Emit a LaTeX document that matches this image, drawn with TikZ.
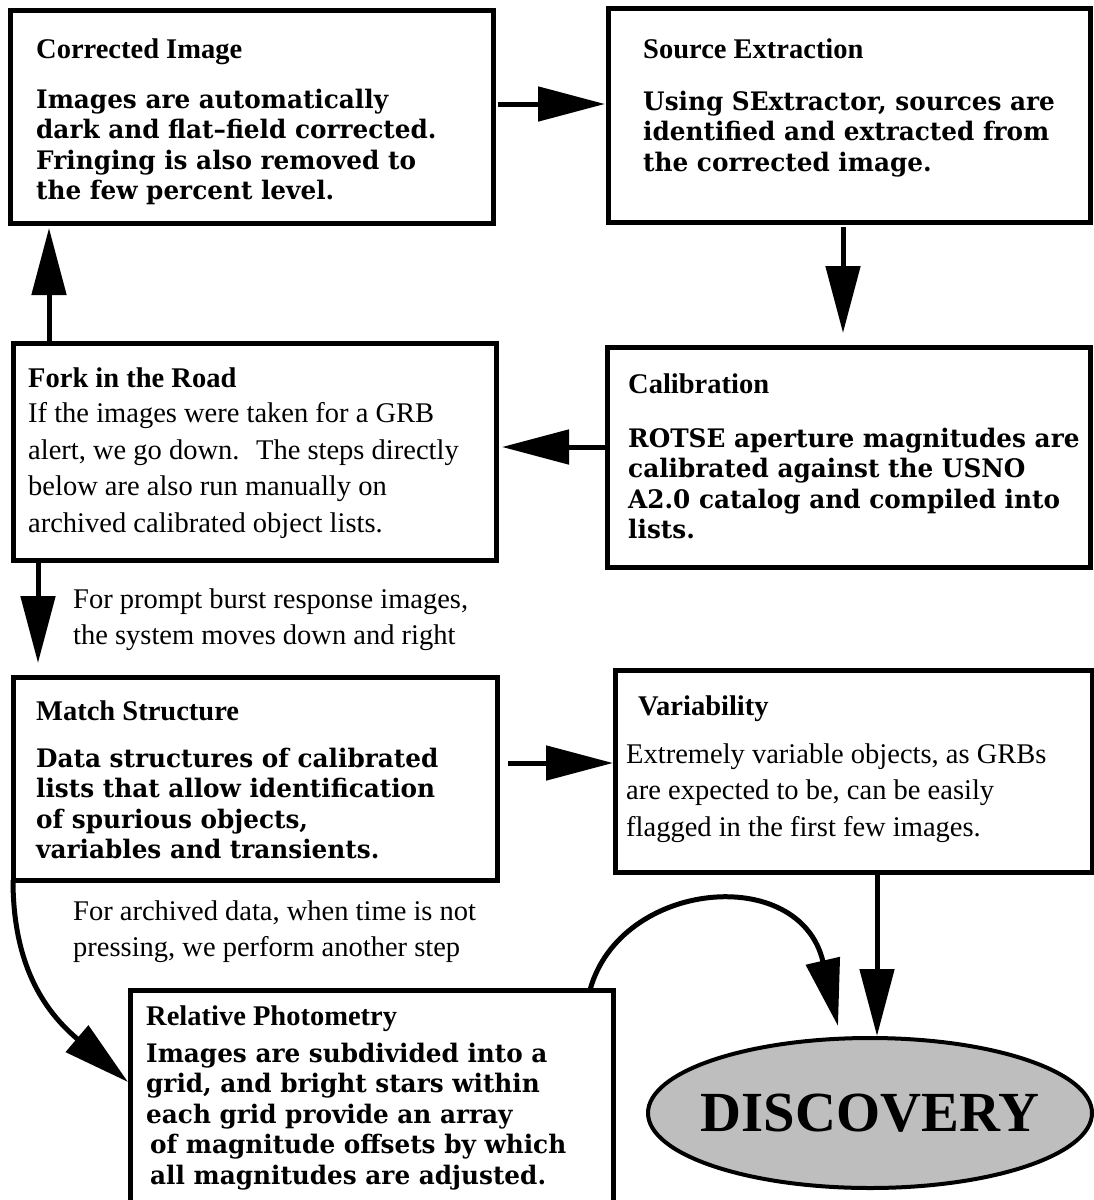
\documentclass[tikz,border=0pt]{standalone}
\usepackage{fontspec}
\setmainfont{Liberation Serif}
\newfontfamily\schoolbook[FakeStretch=0.97]{DejaVu Serif}
\usepackage{tikz}
\usetikzlibrary{calc,arrows.meta,positioning,shapes.geometric}
\definecolor{discgray}{HTML}{BEBEBE}
\newcommand{\ttlfont}{\fontsize{28.5}{36.5}\selectfont\bfseries}
\newcommand{\txtfont}{\fontsize{28.5}{36.5}\selectfont}
\newcommand{\heavyfont}{\fontsize{25.5}{30.5}\selectfont\schoolbook\bfseries}

\begin{document}
\begin{tikzpicture}[x=1pt,y=-1pt,
  box/.style={draw, line width=5pt, outer sep=0pt, inner sep=0pt, anchor=north west},
  ttl/.style={font=\ttlfont, anchor=north west, inner sep=0pt, align=left},
  txt/.style={font=\txtfont, anchor=north west, inner sep=0pt, align=left},
  heavytxt/.style={font=\heavyfont, anchor=north west, inner sep=0pt, align=left},
  flow/.style={line width=5pt, -{Triangle[length=67pt,width=34pt]}}]
\useasboundingbox (0,0) rectangle (1094,1200);
% boxes
\node[box, minimum width=483pt, minimum height=213pt] (corr) at (10,10) {};
\node[box, minimum width=482pt, minimum height=214pt] (src) at (608,8) {};
\node[box, minimum width=483pt, minimum height=220pt] (calib) at (607,347) {};
\node[box, minimum width=483pt, minimum height=217pt] (fork) at (13,343) {};
\node[box, minimum width=484pt, minimum height=203pt] (match) at (13,677) {};
\node[box, minimum width=477pt, minimum height=202pt] (var) at (615,670) {};
\node[box, minimum width=483pt, minimum height=230pt] (rel) at (130,990) {};
\node[ellipse, draw, line width=4pt, fill=discgray, minimum width=444pt, minimum height=150pt,
  inner sep=0pt] (disc) at (870,1113) {};
\node[font=\fontsize{56.7}{60}\selectfont\bfseries, inner sep=0pt] (discT) at (disc.center) {DISCOVERY};
% texts
\node[ttl] (corrT) at ($(corr.north west)+(26,28.5)$) {Corrected Image};
\node[heavytxt] (corrB) at ($(corr.north west)+(26,78.5)$) {Images are automatically\\dark and flat–field corrected.\\Fringing is also removed to\\the few percent level.};
\node[ttl] (srcT) at ($(src.north west)+(35,30.5)$) {Source Extraction};
\node[heavytxt] (srcB) at ($(src.north west)+(35,82.5)$) {Using SExtractor, sources are\\identified and extracted from\\the corrected image.};
\node[ttl] (calibT) at ($(calib.north west)+(21,26.5)$) {Calibration};
\node[heavytxt] (calibB) at ($(calib.north west)+(21,80.5)$) {ROTSE aperture magnitudes are\\calibrated against the USNO\\A2.0 catalog and compiled into\\lists.};
\node[ttl] (forkT) at ($(fork.north west)+(15,24.5)$) {Fork in the Road};
\node[txt] (forkB) at ($(fork.north west)+(15,59.5)$) {If the images were taken for a GRB\\alert, we go down.~ The steps directly\\below are also run manually on\\archived calibrated object lists.};
\node[txt] (prompt) at ($(fork.south west)+(60,28.5)$) {For prompt burst response images,\\the system moves down and right};
\node[ttl] (matchT) at ($(match.north west)+(23,23.5)$) {Match Structure};
\node[heavytxt] (matchB) at ($(match.north west)+(23,70.5)$) {Data structures of calibrated\\lists that allow identification\\of spurious objects,\\variables and transients.};
\node[ttl] (varT) at ($(var.north west)+(23,25.5)$) {Variability};
\node[txt] (varB) at ($(var.north west)+(11,73.5)$) {Extremely variable objects, as GRBs\\are expected to be, can be easily\\flagged in the first few images.};
\node[txt] (archived) at ($(match.south west)+(60,20.5)$) {For archived data, when time is not\\pressing, we perform another step};
\node[ttl] (relT) at ($(rel.north west)+(16,15.5)$) {Relative Photometry};
\node[heavytxt] (relB) at ($(rel.north west)+(16,52.5)$) {Images are subdivided into a\\grid, and bright stars within\\each grid provide an array\\\hspace{4pt}of magnitude offsets by which\\\hspace{4pt}all magnitudes are adjusted.};
% arrows
\draw[flow] ($(corr.north east)+(5,94)$) -- ($(src.north west)+(-3,96)$);
\draw[flow] ($(src.south west)+(235,5)$) -- ($(calib.north west)+(236,-14)$);
\draw[flow] ($(calib.north west)+(0,100)$) -- ($(fork.north east)+(6,104)$);
\draw[flow] ($(fork.north west)+(36,0)$) -- ($(corr.south west)+(39,5)$);
\draw[flow] ($(fork.south west)+(25,0)$) -- ($(match.north west)+(25,-14)$);
\draw[flow] ($(match.north east)+(11,86)$) -- ($(var.north west)+(-2,93)$);
\draw[flow] (match.south west) .. controls +(0,90) and +(-80,-68) .. ($(rel.north west)+(-2,92)$);
\draw[flow] ($(rel.north east)+(-23,0)$) .. controls +(30,-110) and +(-38,-163) .. ($(disc.north)+(-32,-10)$);
\draw[flow] ($(var.south west)+(262,0)$) -- ($(disc.north)+(7,0)$);
\end{tikzpicture}
\end{document}
